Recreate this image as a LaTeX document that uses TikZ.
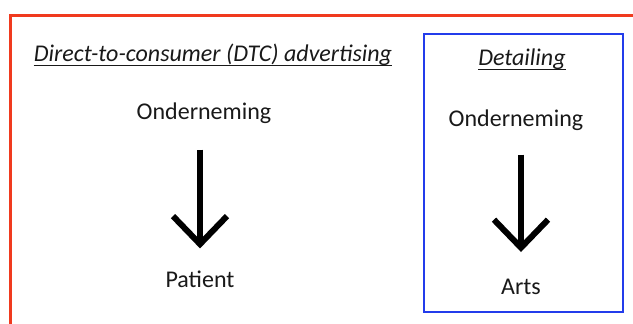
\documentclass[tikz,border=0pt]{standalone}
\usepackage{fontspec}
\setmainfont{Carlito}
\usetikzlibrary{arrows.meta}
\definecolor{frame}{RGB}{240,58,30}
\definecolor{bluebox}{RGB}{35,60,235}
\definecolor{ink}{RGB}{25,25,25}
\tikzset{
  lbl/.style={font=\fontsize{24}{28}\selectfont, text=ink, inner sep=0pt},
  ttl/.style={font=\fontsize{24}{28}\selectfont\itshape, text=ink, inner sep=0pt},
  ul/.style={draw=ink, line width=1.2pt},
  bigarrow/.style={draw=black, line width=6pt, -{Straight Barb[length=28pt,width=54pt,line width=6pt]}},
}
\begin{document}
\begin{tikzpicture}[x=1pt,y=-1pt]
\useasboundingbox (0,0) rectangle (633,324);
\draw[frame, line width=3pt] (640,15) -- (10,15) -- (10,330);
\draw[bluebox, line width=2.5pt] (424,34) rectangle (623,312);
\node[ttl] (t1) at (213,55) {Direct-to-consumer (DTC) advertising};
\draw[ul] ([yshift=-4pt]t1.base west) -- ([yshift=-4pt]t1.base east);
\node[ttl] (t2) at (522,59) {Detailing};
\draw[ul] ([yshift=-4pt]t2.base west) -- ([yshift=-4pt]t2.base east);
\node[lbl] (o1) at (204,113) {Onderneming};
\node[lbl] (p1) at (200,279) {Patient};
\node[lbl] (o2) at (516,120) {Onderneming};
\node[lbl] (a2) at (521,287) {Arts};
\draw[bigarrow, shorten <=26pt, shorten >=22pt] (p1.north |- o1.south) -- (p1.north);
\draw[bigarrow, shorten <=24pt, shorten >=27pt] (a2.north |- o2.south) -- (a2.north);
\end{tikzpicture}
\end{document}
